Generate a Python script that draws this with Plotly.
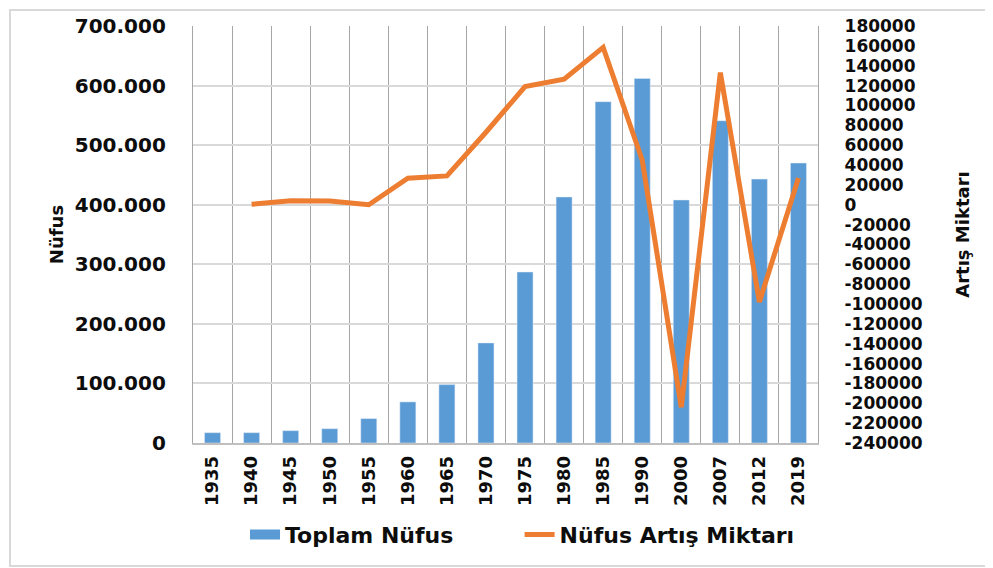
import plotly.graph_objects as go

# %%
years = ["1935", "1940", "1945", "1950", "1955", "1960", "1965", "1970",
         "1975", "1980", "1985", "1990", "2000", "2007", "2012", "2019"]
toplam_nufus = [17300, 17300, 20700, 24000, 41000, 69000, 98000, 168000,
                287000, 413000, 573000, 612000, 408000, 541000, 443000, 470000]
artis_miktari = [None, 400, 4000, 3700, 0, 26600, 29000, 73000,
                 119000, 126500, 158500, 45000, -204000, 133000, -98000, 27000]

left_ticks = [0, 100000, 200000, 300000, 400000, 500000, 600000, 700000]
right_ticks = [-240000, -220000, -200000, -180000, -160000, -140000, -120000,
               -100000, -80000, -60000, -40000, -20000, 0, 20000, 40000,
               60000, 80000, 100000, 120000, 140000, 160000, 180000]
right_labels = [str(v) for v in right_ticks]

BLUE = "#5B9BD5"
ORANGE = "#ED7D31"
FONT = dict(family="DejaVu Sans", color="#0D0D0D", weight="bold")
NBSP = "\u00a0"

# %%
fig = go.Figure()
fig.add_trace(go.Bar(x=years, y=toplam_nufus, marker_color=BLUE,
                     showlegend=False, name="Toplam Nüfus"))
# legend swatch for the bars (wide flat bar like the excel legend)
fig.add_trace(go.Scatter(x=[None], y=[None], mode="lines",
                         line=dict(color=BLUE, width=10),
                         name="Toplam Nüfus" + NBSP * 8))
fig.add_trace(go.Scatter(x=years, y=artis_miktari, mode="lines", yaxis="y2",
                         line=dict(color=ORANGE, width=5),
                         name="Nüfus Artış Miktarı", connectgaps=False))

# page body has an 8px margin, so the plot box is pulled up/left by 8px
fig.update_layout(
    width=993, height=568,
    margin=dict(l=185, r=183, t=18, b=133),
    paper_bgcolor="white", plot_bgcolor="white",
    separators=",.",
    bargap=0.59,
    font=dict(**FONT, size=20),
    xaxis=dict(type="category", tickson="boundaries", showgrid=True,
               gridcolor="#A6A6A6", gridwidth=1.3, tickangle=-90,
               ticks="", tickfont=dict(**FONT, size=18), automargin=False,
               showline=True, linecolor="#BFBFBF", linewidth=1.5,
               ticklabelstandoff=4),
    yaxis=dict(range=[0, 700000], tickvals=left_ticks, tickformat=",d",
               showgrid=True, gridcolor="#D9D9D9", gridwidth=1.5,
               showline=True, linecolor="#A6A6A6", linewidth=1.3,
               zeroline=False, ticks="", tickfont=dict(**FONT, size=20),
               ticklabelstandoff=22, automargin=False,
               title=dict(text="Nüfus", font=dict(**FONT, size=18), standoff=6)),
    yaxis2=dict(range=[-240000, 180000], overlaying="y", side="right",
                tickvals=right_ticks, ticktext=right_labels,
                showgrid=False, zeroline=False, ticks="",
                showline=True, linecolor="#A6A6A6", linewidth=1.3,
                tickfont=dict(**FONT, size=17), ticklabelstandoff=22,
                automargin=False,
                title=dict(text="Artış Miktarı", font=dict(**FONT, size=18),
                           standoff=34)),
    legend=dict(orientation="h", x=(245 - 193) / 625, xanchor="left", y=-0.22,
                yanchor="middle", font=dict(**FONT, size=22)),
    shapes=[dict(type="rect", xref="paper", yref="paper",
                 x0=(10 - 193) / 625, x1=(986 - 193) / 625,
                 y0=(443 - 566) / 417, y1=(443 - 10) / 417,
                 line=dict(color="#D9D9D9", width=2), layer="below")],
)

fig.write_html("out.html")
